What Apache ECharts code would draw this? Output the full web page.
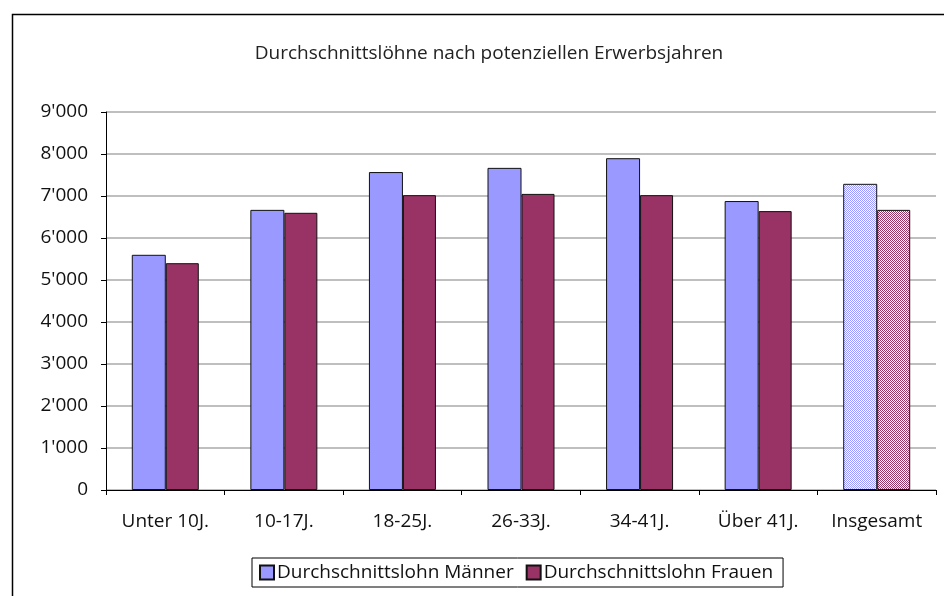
<!DOCTYPE html>
<html>
<head>
<meta charset="utf-8">
<script src="https://cdn.jsdelivr.net/npm/echarts@6/dist/echarts.min.js"></script>
<style>
  html, body { margin: 0; padding: 0; background: #fff; }
  #chart { width: 944px; height: 596px; }
</style>
</head>
<body>
<div id="chart"></div>
<script>
var categories = ['Unter 10J.', '10-17J.', '18-25J.', '26-33J.', '34-41J.', 'Über 41J.', 'Insgesamt'];
var maenner = [5600, 6670, 7570, 7670, 7900, 6880, 7290];
var frauen = [5400, 6600, 7020, 7050, 7020, 6640, 6670];

// small dithered pattern for the "Insgesamt" bars
function makePattern(color) {
    var c = document.createElement('canvas');
    c.width = 2; c.height = 2;
    var ctx = c.getContext('2d');
    ctx.fillStyle = '#ffffff';
    ctx.fillRect(0, 0, 2, 2);
    ctx.fillStyle = color;
    ctx.fillRect(0, 0, 1, 1);
    ctx.fillRect(1, 1, 1, 1);
    return { image: c, repeat: 'repeat' };
}

function fmt(v) {
    if (v === 0) return '0';
    var s = String(v);
    return s.slice(0, s.length - 3) + "'" + s.slice(s.length - 3);
}

function toData(arr, color) {
    return arr.map(function (v, i) {
        if (i === arr.length - 1) {
            return { value: v, itemStyle: { color: makePattern(color) } };
        }
        return v;
    });
}

var chart = echarts.init(document.getElementById('chart'));
var font = '"Open Sans", "Noto Sans", sans-serif';
chart.setOption({
    animation: false,
    textStyle: { fontFamily: font },
    title: {
        text: 'Durchschnittslöhne nach potenziellen Erwerbsjahren',
        left: 484,
        textAlign: 'center',
        top: 39,
        textStyle: { fontSize: 19, fontWeight: 'normal', color: '#222', fontFamily: font }
    },
    graphic: [{
        type: 'rect',
        left: 10, top: 12,
        shape: { width: 960, height: 620 },
        style: { fill: 'none', stroke: '#000', lineWidth: 1.5 },
        silent: true
    }],
    legend: {
        top: 558,
        left: 252,
        icon: 'rect',
        itemWidth: 14,
        itemHeight: 14,
        itemGap: 12,
        padding: [5, 10, 5, 7],
        borderColor: '#000',
        borderWidth: 1,
        textStyle: { fontSize: 19, color: '#111', fontFamily: font, padding: [0, 0, 0, -2] },
        data: ['Durchschnittslohn Männer', 'Durchschnittslohn Frauen']
    },
    grid: { left: 106, right: 8, top: 112, bottom: 106 },
    xAxis: {
        type: 'category',
        data: categories,
        axisLine: { lineStyle: { color: '#000', width: 1 } },
        axisTick: { show: true, length: 5, lineStyle: { color: '#000' } },
        axisLabel: { fontSize: 19, color: '#111', margin: 22 }
    },
    yAxis: {
        type: 'value',
        min: 0, max: 9000, interval: 1000,
        axisLine: { show: true, lineStyle: { color: '#000', width: 1 } },
        axisTick: { show: true, length: 5, lineStyle: { color: '#000' } },
        axisLabel: { fontSize: 19, color: '#111', margin: 18, formatter: function (v) { return fmt(v); } },
        splitLine: { lineStyle: { color: '#aaa', width: 1.5 } }
    },
    series: [
        {
            name: 'Durchschnittslohn Männer',
            type: 'bar',
            data: toData(maenner, '#9999ff'),
            barWidth: 34,
            barGap: '0%',
            itemStyle: { color: '#9999ff', borderColor: '#111', borderWidth: 1 }
        },
        {
            name: 'Durchschnittslohn Frauen',
            type: 'bar',
            data: toData(frauen, '#993366'),
            barWidth: 33,
            itemStyle: { color: '#993366', borderColor: '#111', borderWidth: 1 }
        }
    ]
});
</script>
</body>
</html>
